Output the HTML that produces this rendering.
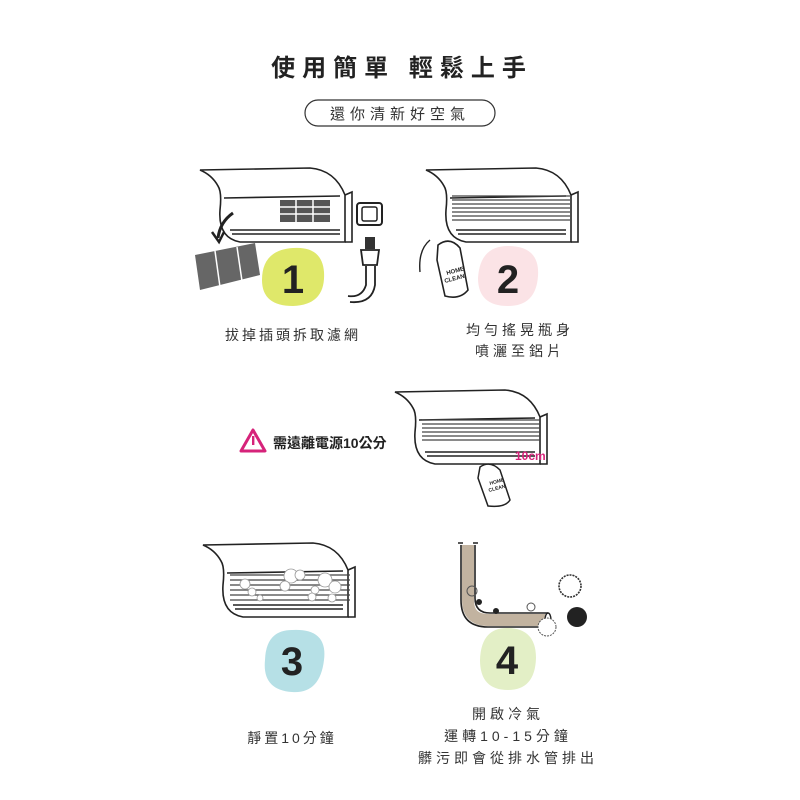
<!DOCTYPE html>
<html><head><meta charset="utf-8"><style>
body{margin:0;background:#fff;}
svg{display:block;font-family:"Liberation Sans","Noto Sans CJK TC",sans-serif;}
</style></head><body>
<svg width="800" height="800" viewBox="0 0 800 800" xmlns="http://www.w3.org/2000/svg">
<defs>
<g id="ac" fill="none" stroke="#222" stroke-width="1.6">
  <path d="M0,0 L110,-2 Q135,0 145,25 L145,72 L40,72 Q18,68 20,40 Q22,22 18,16 Q12,5 0,0 Z" fill="#fff"/>
  <path d="M145,25 L152,22 L152,72 L145,72"/>
  <path d="M24,28 L140,26"/>
  <path d="M30,60 L140,60 M32,64 L140,64"/>
</g>
</defs>
<text x="402" y="76" text-anchor="middle" font-size="24" font-weight="bold" letter-spacing="7" fill="#222">使用簡單 輕鬆上手</text>
<rect x="305" y="100" width="190" height="26" rx="13" fill="#fff" stroke="#333" stroke-width="1.2"/>
<text x="400" y="119" text-anchor="middle" font-size="15" letter-spacing="5" fill="#333">還你清新好空氣</text>

<!-- Step 1 -->
<use href="#ac" transform="translate(200,170)"/>
<rect x="280" y="200" width="50" height="22" fill="#555"/>
<path d="M280,207 H330 M280,214 H330 M296,200 V222 M313,200 V222" stroke="#fff" stroke-width="1.5"/>
<path d="M233,213 Q220,222 218,238" fill="none" stroke="#222" stroke-width="3"/>
<path d="M212,232 L219,242 L224,232" fill="none" stroke="#222" stroke-width="2.5"/>
<path d="M195,255 L255,243 L260,275 L200,290 Z" fill="#666"/>
<path d="M215,251 L220,287 M237,247 L242,281" stroke="#fff" stroke-width="1.5"/>
<rect x="357" y="203" width="25" height="22" rx="3" fill="#fff" stroke="#222" stroke-width="2"/>
<rect x="362" y="207" width="15" height="14" rx="2" fill="none" stroke="#222" stroke-width="1.5"/>
<rect x="365" y="237" width="10" height="12" fill="#333"/>
<path d="M361,250 h18 l-2,15 h-14 Z" fill="#fff" stroke="#222" stroke-width="1.8"/>
<path d="M366,266 L366,285 Q362,298 348,296 M375,266 L375,285 Q372,304 350,302" fill="none" stroke="#222" stroke-width="1.8"/>
<path d="M293,248 Q322,246 324,272 Q326,305 293,306 Q262,306 262,280 Q262,250 293,248 Z" fill="#dfe86a"/>
<text x="293" y="293" text-anchor="middle" font-size="40" font-weight="bold" fill="#222">1</text>
<text x="293" y="340" text-anchor="middle" font-size="14" letter-spacing="3" fill="#333">拔掉插頭拆取濾網</text>

<!-- Step 2 -->
<use href="#ac" transform="translate(426,170)"/>
<path d="M452,196 H570 M452,200 H570 M452,204 H570 M452,208 H570 M452,212 H570 M452,216 H570 M452,220 H570" stroke="#444" stroke-width="1.2"/>
<path d="M438,245 Q450,236 460,248 L468,290 Q460,300 445,296 L437,260 Z" fill="#fff" stroke="#222" stroke-width="1.6"/>
<path d="M430,240 Q418,250 420,272" fill="none" stroke="#222" stroke-width="1.4"/>
<text x="447" y="275" font-size="6" font-weight="bold" fill="#222" transform="rotate(-15 447 275)">HOME</text>
<text x="445" y="283" font-size="6" font-weight="bold" fill="#222" transform="rotate(-15 445 283)">CLEAN</text>
<path d="M508,246 Q540,246 538,276 Q536,306 508,306 Q478,306 478,278 Q480,246 508,246 Z" fill="#fbe3e6"/>
<text x="508" y="293" text-anchor="middle" font-size="40" font-weight="bold" fill="#222">2</text>
<text x="520" y="335" text-anchor="middle" font-size="14" letter-spacing="4" fill="#333">均勻搖晃瓶身</text>
<text x="520" y="356" text-anchor="middle" font-size="14" letter-spacing="4" fill="#333">噴灑至鋁片</text>

<!-- Warning -->
<use href="#ac" transform="translate(395,392)"/>
<path d="M422,420 H540 M422,424 H540 M422,428 H540 M422,432 H540 M422,436 H540 M422,440 H540" stroke="#444" stroke-width="1.2"/>
<text x="515" y="460" font-size="12" font-weight="bold" fill="#d6237a">10cm</text>
<path d="M480,467 Q490,460 500,470 L510,500 Q505,508 488,506 L478,478 Z" fill="#fff" stroke="#222" stroke-width="1.5"/>
<text x="490" y="485" font-size="5" font-weight="bold" fill="#222" transform="rotate(-15 490 485)">HOME</text>
<text x="489" y="492" font-size="5" font-weight="bold" fill="#222" transform="rotate(-15 489 492)">CLEAN</text>
<path d="M253,430 L265,451 L241,451 Z" fill="none" stroke="#d6237a" stroke-width="3" stroke-linejoin="round"/>
<rect x="252" y="436" width="2.4" height="9" fill="#d6237a"/>
<text x="273" y="448" font-size="14" font-weight="bold" fill="#222">需遠離電源10公分</text>

<!-- Step 3 -->
<use href="#ac" transform="translate(203,545)"/>
<path d="M230,575 H350 M230,580 H350 M230,585 H350 M230,590 H350 M230,595 H350 M230,600 H350" stroke="#444" stroke-width="1.2"/>
<g fill="#fff" stroke="#999" stroke-width="0.8">
<circle cx="291" cy="576" r="7"/><circle cx="300" cy="575" r="5"/><circle cx="285" cy="586" r="5"/>
<circle cx="325" cy="580" r="7"/><circle cx="335" cy="587" r="6"/><circle cx="315" cy="590" r="4"/>
<circle cx="245" cy="584" r="5"/><circle cx="252" cy="592" r="4"/><circle cx="260" cy="598" r="3"/>
<circle cx="312" cy="597" r="4"/><circle cx="332" cy="598" r="4"/></g>
<path d="M292,630 Q328,628 324,660 Q320,694 292,692 Q262,690 265,660 Q266,630 292,630 Z" fill="#b6e0e6"/>
<text x="292" y="675" text-anchor="middle" font-size="40" font-weight="bold" fill="#222">3</text>
<text x="292" y="743" text-anchor="middle" font-size="14" letter-spacing="3" fill="#333">靜置10分鐘</text>

<!-- Step 4 -->
<path d="M458,543 H463 M473,543 H478" stroke="#222" stroke-width="1.4"/>
<path d="M468,545 L468,600 Q468,620 488,620 L545,620" fill="none" stroke="#c2b3a0" stroke-width="12"/>
<path d="M461,545 L461,600 Q461,627 488,627 L548,627 M475,545 L475,598 Q475,613 490,613 L548,613" fill="none" stroke="#222" stroke-width="1.6"/>
<ellipse cx="548" cy="620" rx="3" ry="7" fill="none" stroke="#222" stroke-width="1.4"/>
<circle cx="570" cy="586" r="11" fill="#fff" stroke="#333" stroke-width="1.6" stroke-dasharray="2 1"/>
<circle cx="577" cy="617" r="10" fill="#222"/>
<circle cx="547" cy="627" r="9" fill="#fff" stroke="#555" stroke-width="1" stroke-dasharray="2 1"/>
<circle cx="472" cy="591" r="5" fill="none" stroke="#555"/>
<circle cx="479" cy="602" r="3" fill="#222"/>
<circle cx="496" cy="611" r="3" fill="#222"/>
<circle cx="531" cy="607" r="4" fill="none" stroke="#555"/>
<path d="M507,628 Q536,628 536,658 Q535,690 508,690 Q480,690 480,660 Q481,628 507,628 Z" fill="#e3efc6"/>
<text x="507" y="674" text-anchor="middle" font-size="40" font-weight="bold" fill="#222">4</text>
<text x="508" y="719" text-anchor="middle" font-size="14" letter-spacing="4" fill="#333">開啟冷氣</text>
<text x="508" y="741" text-anchor="middle" font-size="14" letter-spacing="4" fill="#333">運轉10-15分鐘</text>
<text x="508" y="763" text-anchor="middle" font-size="14" letter-spacing="4" fill="#333">髒污即會從排水管排出</text>
</svg>
</body></html>
